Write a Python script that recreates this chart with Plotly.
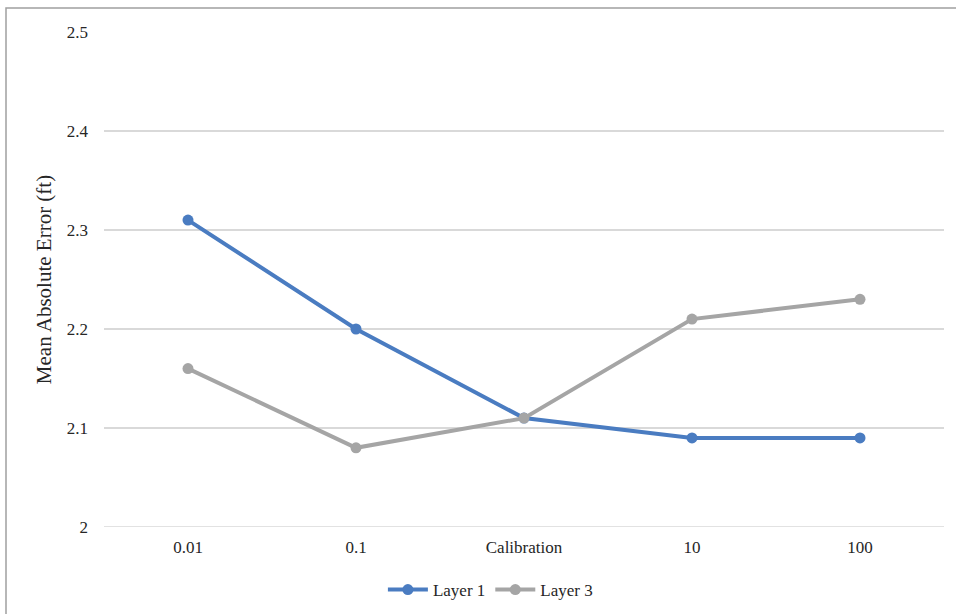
import plotly.graph_objects as go

categories = ["0.01", "0.1", "Calibration", "10", "100"]
layer1 = [2.31, 2.20, 2.11, 2.09, 2.09]
layer3 = [2.16, 2.08, 2.11, 2.21, 2.23]
y_ticks = [2, 2.1, 2.2, 2.3, 2.4, 2.5]
y_tick_labels = ["2", "2.1", "2.2", "2.3", "2.4", "2.5"]

FONT = "Liberation Serif, Times New Roman, serif"
TXT = "#262626"

fig = go.Figure()
fig.add_trace(go.Scatter(x=categories, y=layer1, name="Layer 1", mode="lines+markers",
                         line=dict(color="#4A7CC1", width=4),
                         marker=dict(size=11, color="#4A7CC1")))
fig.add_trace(go.Scatter(x=categories, y=layer3, name="Layer 3", mode="lines+markers",
                         line=dict(color="#A5A5A5", width=4),
                         marker=dict(size=11, color="#A5A5A5")))

fig.update_layout(
    width=956, height=614,
    margin=dict(l=104, r=12, t=32, b=87, autoexpand=False),
    paper_bgcolor="white", plot_bgcolor="white",
    font=dict(family=FONT, size=17, color=TXT),
    showlegend=True,
    legend=dict(orientation="h", x=0.46, xanchor="center",
                yref="container", y=(614 - 590) / 614, yanchor="middle",
                font=dict(family=FONT, size=17, color=TXT), itemwidth=40),
    xaxis=dict(type="category", showgrid=False, zeroline=False, showline=False,
               ticks="", ticklabelstandoff=8, range=[-0.5, 4.5],
               tickfont=dict(family=FONT, size=17, color=TXT)),
    yaxis=dict(range=[2, 2.5], tickvals=y_ticks, ticktext=y_tick_labels,
               showgrid=True, gridcolor="#D9D9D9", gridwidth=1.5, zeroline=False,
               showline=False, ticks="", ticklabelstandoff=15,
               tickfont=dict(family=FONT, size=17, color=TXT),
               title=dict(text="Mean Absolute Error (ft)", standoff=9,
                          font=dict(family=FONT, size=21, color=TXT))),
    shapes=[dict(type="rect", xref="paper", yref="paper",
                 x0=(6 - 104) / 840, x1=1.2, y0=-0.3, y1=1 + 24 / 495,
                 line=dict(color="#A0A0A0", width=1.5), layer="below")],
)
fig.add_hline(y=2, line=dict(color="#D9D9D9", width=1.5), layer="below")

fig.write_html(
    "out.html",
    config={"displayModeBar": False},
    post_script="document.body.style.margin='0';document.documentElement.style.overflow='hidden';document.body.style.overflow='hidden';",
)
